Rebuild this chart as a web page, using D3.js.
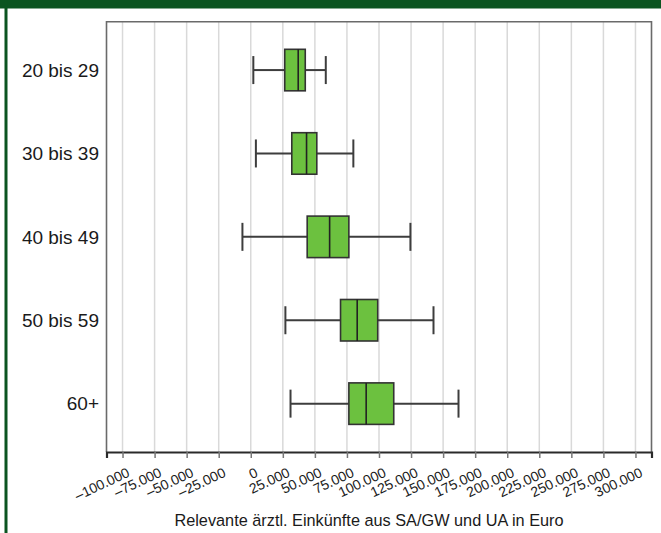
<!DOCTYPE html>
<html>
<head>
<meta charset="utf-8">
<script src="https://cdn.jsdelivr.net/npm/d3@7"></script>
<style>
  html, body { margin: 0; padding: 0; background: #fff; }
  svg { display: block; }
  text { font-family: "Liberation Sans", Arial, Helvetica, sans-serif; fill: #1a1a1a; }
</style>
</head>
<body>
<svg id="chart" width="661" height="533"></svg>
<script>
// ---- data ----
const categories = ["20 bis 29", "30 bis 39", "40 bis 49", "50 bis 59", "60+"];
const whiskerLow  = [2000, 4000, -6500, 27000, 31000];
const quartile1   = [26500, 32000, 44000, 70000, 76500];
const medians     = [37000, 43500, 61500, 83000, 90000];
const quartile3   = [42500, 51500, 76500, 99000, 111500];
const whiskerHigh = [58500, 80000, 124500, 142500, 162000];
const tickValues  = [-100000, -75000, -50000, -25000, 0, 25000, 50000, 75000, 100000,
                     125000, 150000, 175000, 200000, 225000, 250000, 275000, 300000];
const xTitle = "Relevante ärztl. Einkünfte aus SA/GW und UA in Euro";

const rows = categories.map((c, i) => ({
  cat: c, lo: whiskerLow[i], q1: quartile1[i], med: medians[i], q3: quartile3[i], hi: whiskerHigh[i]
}));

const svg = d3.select("#chart");
const W = 661, H = 533;
const plot = { left: 106.5, right: 651.5, top: 21.7, bottom: 452 };

// frame decorations (dark green header bar and left stripe)
svg.append("rect").attr("x", 0).attr("y", 0).attr("width", W).attr("height", 8.5).attr("fill", "#0b5420");
svg.append("rect").attr("x", 4.5).attr("y", 0).attr("width", 3).attr("height", H).attr("fill", "#0b5420");

const x = d3.scaleLinear().domain([-112500, 312500]).range([plot.left, plot.right]);
const y = d3.scalePoint().domain(categories).range([plot.top, plot.bottom]).padding(0.58);

const locale = d3.formatLocale({ decimal: ",", thousands: ".", grouping: [3], currency: ["", " €"], minus: "\u2013" });
const fmt = locale.format(",.0f");

// grid lines
svg.append("g").selectAll("line").data(tickValues).join("line")
  .attr("x1", d => x(d)).attr("x2", d => x(d))
  .attr("y1", plot.top).attr("y2", plot.bottom)
  .attr("stroke", "#d9d9d9").attr("stroke-width", 1.5);

// frame: top, left, right
svg.append("path")
  .attr("d", `M${plot.left},${plot.bottom} V${plot.top} H${plot.right} V${plot.bottom}`)
  .attr("fill", "none").attr("stroke", "#6a6a6a").attr("stroke-width", 1.6);

// x axis
const xAxis = d3.axisBottom(x).tickValues(tickValues).tickSize(6).tickFormat(fmt);
const gx = svg.append("g").attr("transform", `translate(0,${plot.bottom})`).call(xAxis);
gx.select(".domain").attr("stroke", "#2a2a2a").attr("stroke-width", 2.2);
gx.selectAll(".tick line").attr("stroke", "#777").attr("stroke-width", 1.5);
gx.selectAll(".tick text")
  .attr("font-size", 14).attr("text-anchor", "end")
  .attr("y", 0).attr("dy", 0)
  .attr("transform", "translate(7.5,24) rotate(-25)")
  .style("fill", "#1a1a1a");

// y labels
svg.append("g").selectAll("text").data(categories).join("text")
  .attr("x", 99).attr("y", d => y(d))
  .attr("dy", "0.35em").attr("text-anchor", "end")
  .attr("font-size", 19).text(d => d);

// x title
svg.append("text").attr("x", 369).attr("y", 525.5).attr("text-anchor", "middle")
  .attr("font-size", 16.3).text(xTitle);

// box plots
const boxH = 41.5, capH = 28;
const g = svg.append("g").selectAll("g").data(rows).join("g");
const wStroke = "#3d3d3d";
g.append("line").attr("x1", d => x(d.lo)).attr("x2", d => x(d.q1))
  .attr("y1", d => y(d.cat)).attr("y2", d => y(d.cat)).attr("stroke", wStroke).attr("stroke-width", 2);
g.append("line").attr("x1", d => x(d.q3)).attr("x2", d => x(d.hi))
  .attr("y1", d => y(d.cat)).attr("y2", d => y(d.cat)).attr("stroke", wStroke).attr("stroke-width", 2);
g.append("line").attr("x1", d => x(d.lo)).attr("x2", d => x(d.lo))
  .attr("y1", d => y(d.cat) - capH / 2).attr("y2", d => y(d.cat) + capH / 2).attr("stroke", wStroke).attr("stroke-width", 2);
g.append("line").attr("x1", d => x(d.hi)).attr("x2", d => x(d.hi))
  .attr("y1", d => y(d.cat) - capH / 2).attr("y2", d => y(d.cat) + capH / 2).attr("stroke", wStroke).attr("stroke-width", 2);
g.append("rect").attr("x", d => x(d.q1)).attr("width", d => x(d.q3) - x(d.q1))
  .attr("y", d => y(d.cat) - boxH / 2).attr("height", boxH)
  .attr("fill", "#6cc13f").attr("stroke", "#333").attr("stroke-width", 1.6);
g.append("line").attr("x1", d => x(d.med)).attr("x2", d => x(d.med))
  .attr("y1", d => y(d.cat) - boxH / 2).attr("y2", d => y(d.cat) + boxH / 2)
  .attr("stroke", "#222").attr("stroke-width", 1.6);
</script>
</body>
</html>
